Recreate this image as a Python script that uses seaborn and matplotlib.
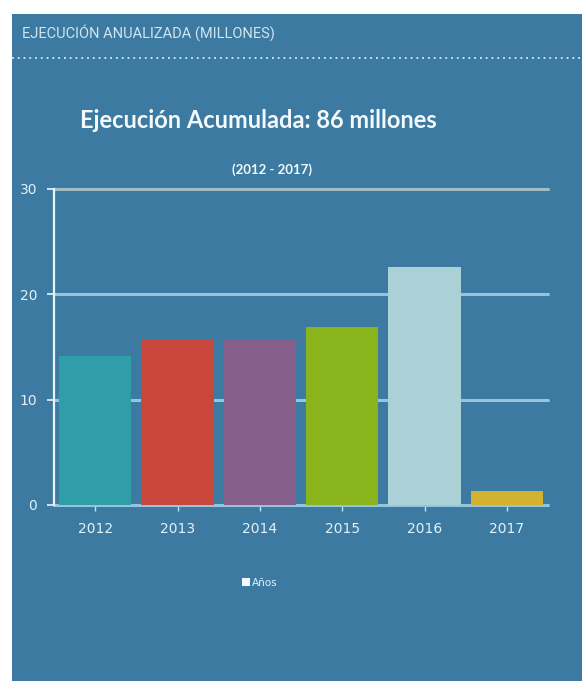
import matplotlib
matplotlib.use("Agg")
import matplotlib.pyplot as plt
from matplotlib.patches import Rectangle
from matplotlib.lines import Line2D
import seaborn as sns
import pandas as pd

# Annual execution (millions)
years = ["2012", "2013", "2014", "2015", "2016", "2017"]
values = [14.1, 15.7, 15.8, 16.9, 22.6, 1.3]
bar_colors = ["#2f9ea9", "#c9463c", "#855f8a", "#8ab41c", "#a9d1d6", "#d3b22f"]
y_ticks = [0, 10, 20, 30]

header = "EJECUCIÓN ANUALIZADA (MILLONES)"
title = "Ejecución Acumulada: 86 millones"
subtitle = "(2012 - 2017)"
legend_label = "Años"

panel_bg = "#3c7aa1"
light_txt = "#e2f1f8"
grid_col = "#93c6de"

sns.set_theme(style="white")
plt.rcParams["font.family"] = ["DejaVu Sans"]

W, H = 582, 681
fig = plt.figure(figsize=(W / 100, H / 100), dpi=100)
fig.patch.set_facecolor("white")

# dashboard panel
fig.add_artist(Rectangle((12 / W, 0), 1 - 12 / W, 1 - 14 / H, transform=fig.transFigure,
                         facecolor=panel_bg, edgecolor="none", zorder=0))

fig.text(22 / W, 1 - 33 / H, header, color="#cfe5f1", fontsize=10.5,
         family=["Roboto", "DejaVu Sans"], ha="left", va="center")
fig.add_artist(Line2D([12 / W, 1], [1 - 58 / H, 1 - 58 / H], transform=fig.transFigure,
                      color="#d7e9f3", lw=1.3, ls=(0, (1, 2.2))))

fig.text(258 / W, 1 - 121 / H, title, color="#f4fafc", fontsize=17, fontweight="bold",
         family=["Lato", "DejaVu Sans"], ha="center", va="center")
fig.text(272 / W, 1 - 170 / H, subtitle, color="#f4fafc", fontsize=9.5, fontweight="bold",
         family=["Lato", "DejaVu Sans"], ha="center", va="center")

ax = fig.add_axes([54 / W, 1 - 505 / H, (548 - 54) / W, (505 - 189) / H])
ax.set_facecolor("none")

df = pd.DataFrame({"year": years, "value": values})
sns.barplot(data=df, x="year", y="value", hue="year", palette=bar_colors,
            width=0.88, saturation=1, legend=False, ax=ax, zorder=3,
            edgecolor="none", linewidth=0)

ax.set_ylim(0, 30)
ax.set_xlim(-0.5, len(years) - 0.5)
ax.set_yticks(y_ticks)
for t in y_ticks:
    c = "#a2bcc6" if t == 30 else grid_col
    ax.axhline(t, color=c, lw=2.2, zorder=1, clip_on=False)

for s in ["top", "right", "bottom"]:
    ax.spines[s].set_visible(False)
ax.spines["left"].set_color("#e8f4fa")
ax.spines["left"].set_linewidth(1.6)
ax.spines["left"].set_zorder(4)

ax.tick_params(axis="y", colors="#e8f4fa", labelcolor=light_txt, labelsize=10,
               length=5, width=1.2, direction="out", left=True, pad=7)
ax.tick_params(axis="x", colors="#c9e2ee", labelcolor=light_txt, labelsize=10,
               length=4, width=1, direction="out", bottom=True, pad=8)
ax.set_xlabel("")
ax.set_ylabel("")

# legend
handle = Rectangle((0, 0), 1, 1, facecolor="#f2f9fc", edgecolor="none")
fig.legend([handle], [legend_label], loc="center", bbox_to_anchor=(260 / W, 1 - 583 / H),
           frameon=False, fontsize=7.5, labelcolor=light_txt, handlelength=0.8,
           handleheight=0.8, handletextpad=0.2)

fig.savefig("out.png", dpi=100, facecolor="white")
